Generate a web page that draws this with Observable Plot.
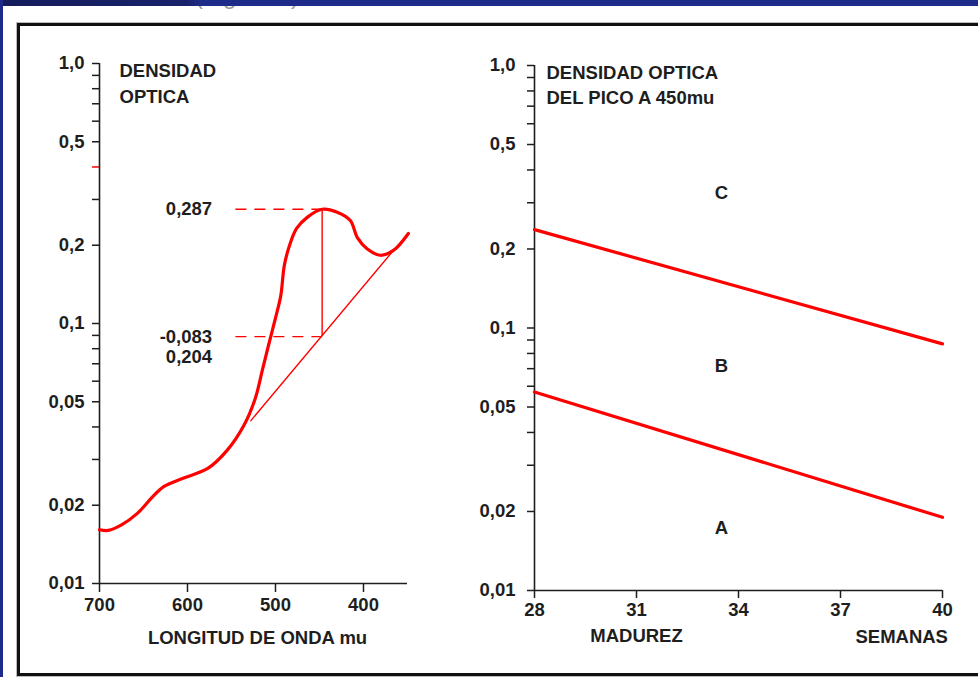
<!DOCTYPE html>
<html>
<head>
<meta charset="utf-8">
<script src="https://cdn.jsdelivr.net/npm/d3@7"></script>
<script src="https://cdn.jsdelivr.net/npm/@observablehq/plot@0.6"></script>
<style>
  html, body { margin: 0; padding: 0; width: 978px; height: 677px; overflow: hidden; background: #fff; }
  #stage { position: relative; width: 978px; height: 677px; }
  .topbar { position: absolute; left: 0; top: 0; width: 978px; height: 6px;
    background: linear-gradient(90deg, #151c5c 0%, #18226a 19%, #1f2b88 20.5%, #1f2b88 100%); z-index: 5; }
  .leftbar { position: absolute; left: 0; top: 0; width: 3px; height: 677px; background: #1e2a88; z-index: 5; }
  .frame { position: absolute; left: 17px; top: 23px; width: 1000px; height: 647px;
    border: 3px solid #111; box-shadow: 0 0 0 1px #bbb; z-index: 4; pointer-events: none; }
  .clipped { position: absolute; left: 195px; top: 0; height: 11px; width: 140px; overflow: hidden; z-index: 3; }
  .clipped span { position: absolute; top: -18px; left: 0; font: 24px "Liberation Sans", Arial, sans-serif; color: #9a9a9a; white-space: nowrap; }
  svg.chart { position: absolute; top: 0; }
</style>
</head>
<body>
<div id="stage">
  <div class="topbar"></div>
  <div class="leftbar"></div>
  <div class="clipped"><span>(Figura 2)</span></div>
  <div class="frame"></div>
</div>
<script>
// ---------- Data: left panel (absorption spectrum) ----------
const wavelength = [700, 690, 675, 657, 640, 627, 605, 577, 555, 536, 523, 515, 508, 500, 494, 490, 484, 476, 464, 447, 430, 415, 407, 396, 381, 366, 349];
const density    = [0.0161, 0.0160, 0.0168, 0.0186, 0.0215, 0.0236, 0.0254, 0.0277, 0.0325, 0.0405, 0.0515, 0.066, 0.0823, 0.105, 0.128, 0.167, 0.200, 0.232, 0.256, 0.275, 0.268, 0.249, 0.214, 0.194, 0.183, 0.191, 0.222];
const baseWave   = [528, 366];
const baseDens   = [0.0423, 0.191];
const peakWave   = 447;
const peakTop    = 0.275;
const peakBottom = 0.089;
const dashStart  = 545;
const labelWave  = 572;
const peakLabels = ["0,287", "-0,083", "0,204"];

// ---------- Data: right panel ----------
const weeks      = [28, 40];
const upperLine  = [0.237, 0.087];
const lowerLine  = [0.057, 0.019];
const zoneLetters = ["C", "B", "A"];
const zoneWeek    = [33.5, 33.5, 33.5];
const zoneDens    = [0.327, 0.0713, 0.01725];

// ---------- Axis ticks ----------
const majorTicks  = [1, 0.5, 0.2, 0.1, 0.05, 0.02, 0.01];
const majorLabels = ["1,0", "0,5", "0,2", "0,1", "0,05", "0,02", "0,01"];
const minorTicks  = [0.9, 0.8, 0.7, 0.6, 0.4, 0.3, 0.09, 0.08, 0.07, 0.06, 0.04, 0.03];
const redTick     = [0.4];
const waveTicks   = [700, 600, 500, 400];
const weekTicks   = [28, 31, 34, 37, 40];

const ink = "#1e1e1e";
const red = "#ff0000";
const font = {fontFamily: "'Liberation Sans', Arial, Helvetica, sans-serif", fontSize: "18.5px", fontWeight: "bold", background: "transparent", overflow: "visible", color: ink};
const yLabel = d => { const i = majorTicks.indexOf(d); return i >= 0 ? majorLabels[i] : ""; };

const spectrum = wavelength.map((w, i) => ({w, d: density[i]}));
const base = baseWave.map((w, i) => ({w, d: baseDens[i]}));
const allYTicks = majorTicks.concat(minorTicks.filter(t => !redTick.includes(t)));

const left = Plot.plot({
  width: 470, height: 677,
  marginLeft: 99, marginRight: 63, marginTop: 63, marginBottom: 94,
  x: {type: "linear", domain: [700, 350]},
  y: {type: "log", domain: [0.01, 1]},
  style: font,
  marks: [
    Plot.axisY({ticks: allYTicks, tickFormat: yLabel, label: null, tickSize: 7, tickPadding: 8, stroke: ink, strokeWidth: 1.5, fill: ink}),
    Plot.axisY({ticks: redTick, tickFormat: () => "", label: null, tickSize: 7, stroke: red, strokeWidth: 1.5}),
    Plot.axisX({ticks: waveTicks, tickFormat: d => String(d), label: null, tickSize: 9, tickPadding: 5, stroke: ink, strokeWidth: 1.5, fill: ink}),
    Plot.ruleX([700], {y1: 0.01, y2: 1, stroke: ink, strokeWidth: 1.6}),
    Plot.ruleY([0.01], {x1: 700, x2: 350, stroke: ink, strokeWidth: 1.6}),
    Plot.line(base, {x: "w", y: "d", stroke: red, strokeWidth: 1.4}),
    Plot.ruleX([peakWave], {y1: peakBottom, y2: peakTop, stroke: red, strokeWidth: 1.4}),
    Plot.ruleY([peakTop, peakBottom], {x1: dashStart, x2: peakWave, stroke: red, strokeWidth: 1.4, strokeDasharray: "11,8"}),
    Plot.line(spectrum, {x: "w", y: "d", stroke: red, strokeWidth: 3.2, curve: "catmull-rom"}),
    Plot.text([peakLabels[0]], {x: labelWave, y: peakTop, text: d => d, textAnchor: "end", fill: ink}),
    Plot.text([peakLabels[1]], {x: labelWave, y: peakBottom, text: d => d, textAnchor: "end", fill: ink}),
    Plot.text([peakLabels[2]], {x: labelWave, y: peakBottom, dy: 20, text: d => d, textAnchor: "end", fill: ink}),
    Plot.text(["DENSIDAD\nOPTICA"], {frameAnchor: "top-left", dx: 20, dy: -6, text: d => d, textAnchor: "start", lineAnchor: "top", lineHeight: 1.45, fill: ink}),
    Plot.text(["LONGITUD DE ONDA mu"], {frameAnchor: "bottom", dx: 4, dy: 60, text: d => d, fill: ink})
  ]
});

const rows = [
  {k: "u", data: weeks.map((w, i) => ({w, d: upperLine[i]}))},
  {k: "l", data: weeks.map((w, i) => ({w, d: lowerLine[i]}))}
];
const zones = zoneLetters.map((t, i) => ({t, w: zoneWeek[i], d: zoneDens[i]}));

const right = Plot.plot({
  width: 508, height: 677,
  marginLeft: 64, marginRight: 36, marginTop: 65, marginBottom: 87,
  x: {type: "linear", domain: [28, 40]},
  y: {type: "log", domain: [0.01, 1]},
  style: font,
  marks: [
    Plot.axisY({ticks: majorTicks.concat(minorTicks), tickFormat: yLabel, label: null, tickSize: 7, tickPadding: 12, stroke: ink, strokeWidth: 1.5, fill: ink}),
    Plot.axisX({ticks: weekTicks, tickFormat: d => String(d), label: null, tickSize: 8, tickPadding: 4, stroke: ink, strokeWidth: 1.5, fill: ink}),
    Plot.ruleX([28], {y1: 0.01, y2: 1, stroke: ink, strokeWidth: 1.6}),
    Plot.ruleY([0.01], {x1: 28, x2: 40, stroke: ink, strokeWidth: 1.6}),
    ...rows.map(r => Plot.line(r.data, {x: "w", y: "d", stroke: red, strokeWidth: 3.2})),
    Plot.text(zones, {x: "w", y: "d", text: "t", fill: ink}),
    Plot.text(["DENSIDAD OPTICA\nDEL PICO A 450mu"], {frameAnchor: "top-left", dx: 12, dy: -4, text: d => d, textAnchor: "start", lineAnchor: "top", lineHeight: 1.35, fill: ink}),
    Plot.text(["MADUREZ"], {x: 31, frameAnchor: "bottom", dy: 51, text: d => d, fill: ink}),
    Plot.text(["SEMANAS"], {x: 38.8, frameAnchor: "bottom", dy: 52, text: d => d, fill: ink})
  ]
});

left.classList.add("chart");
right.classList.add("chart");
left.style.left = "0px";
right.style.left = "470px";
const stage = document.getElementById("stage");
stage.insertBefore(left, stage.querySelector(".frame"));
stage.insertBefore(right, stage.querySelector(".frame"));
</script>
</body>
</html>
